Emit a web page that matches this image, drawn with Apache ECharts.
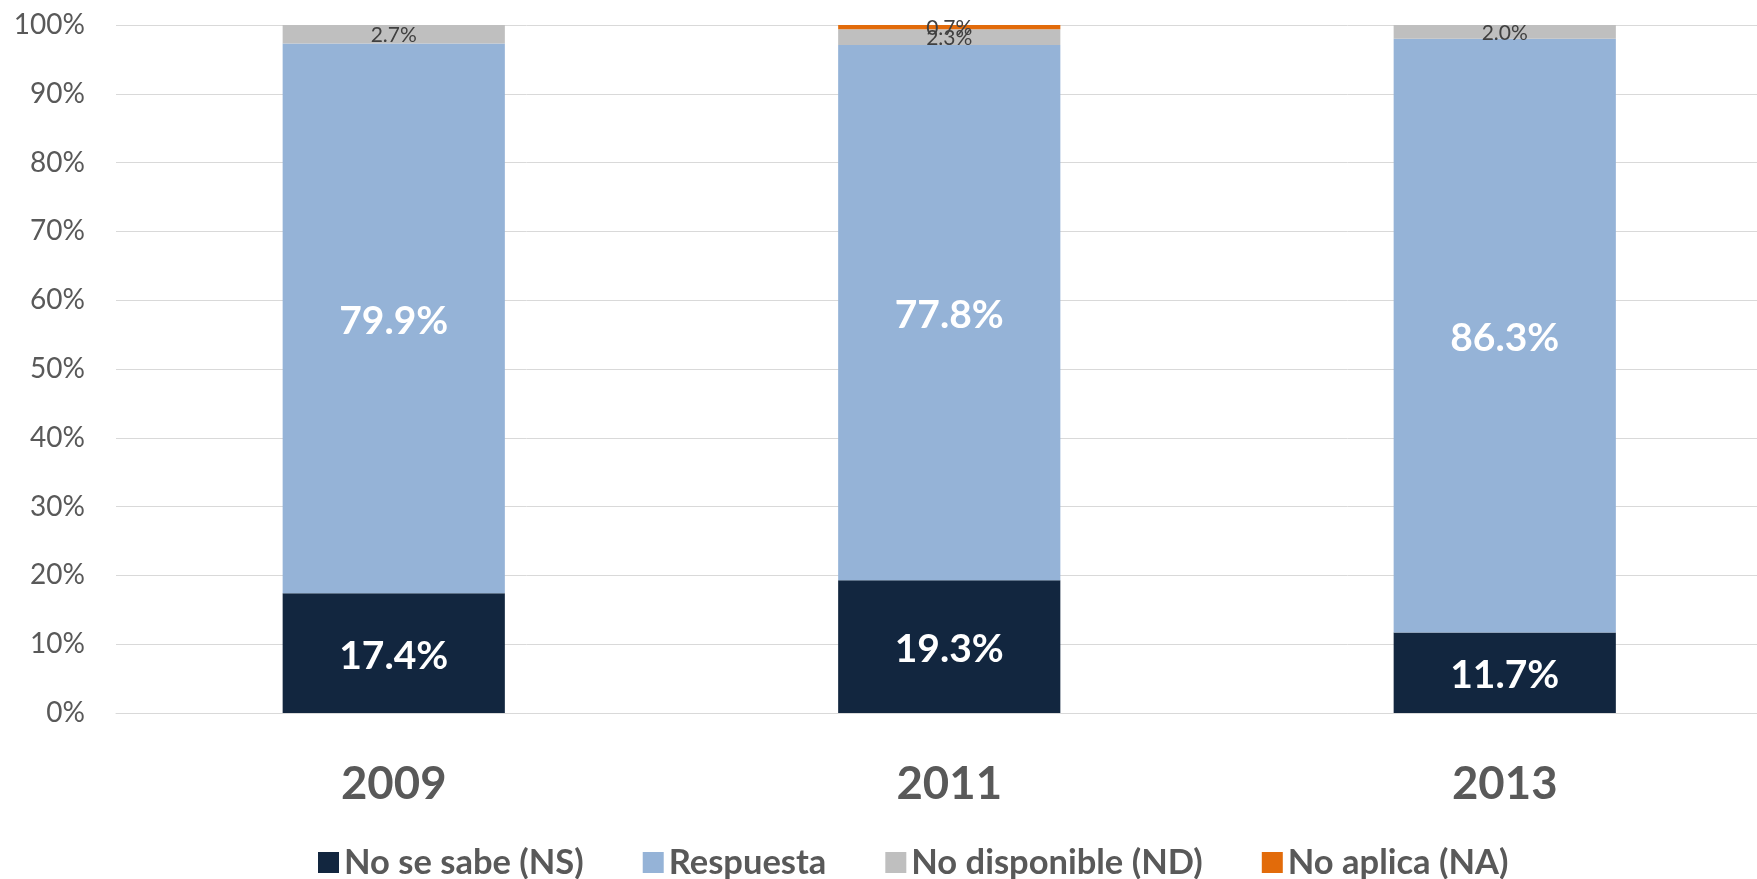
<!DOCTYPE html>
<html>
<head>
<meta charset="utf-8">
<script src="https://cdn.jsdelivr.net/npm/echarts@6/dist/echarts.min.js"></script>
<style>
html,body{margin:0;padding:0;background:#fff;}
#chart{width:1757px;height:879px;}
</style>
</head>
<body>
<div id="chart"></div>
<script>
const categories = ['2009', '2011', '2013'];
const seriesNames = ['No se sabe (NS)', 'Respuesta', 'No disponible (ND)', 'No aplica (NA)'];
const nsValues = [17.4, 19.3, 11.7];
const respuestaValues = [79.9, 77.8, 86.3];
const ndValues = [2.7, 2.3, 2.0];
const naValues = [null, 0.7, null];
const yTicks = [0, 10, 20, 30, 40, 50, 60, 70, 80, 90, 100];

const FONT = 'Lato';
const colors = ['#12263F', '#95B3D7', '#BFBFBF', '#E26B0A'];
const fmt = p => (p.value == null ? '' : p.value.toFixed(1) + '%');

const bigLabel = {
  show: true, position: 'inside', offset: [0, 3], color: '#FFFFFF', fontFamily: FONT,
  fontWeight: 'bold', fontSize: 39, formatter: fmt
};
const smallLabel = {
  show: true, position: 'inside', offset: [0, 1], color: '#404040', fontFamily: FONT,
  fontSize: 21, formatter: fmt
};

const chart = echarts.init(document.getElementById('chart'), null, {renderer: 'canvas'});
chart.setOption({
  animation: false,
  backgroundColor: '#FFFFFF',
  color: colors,
  grid: {left: 116, width: 1666.5, top: 25, bottom: 166, containLabel: false, outerBoundsMode: 'none'},
  legend: {
    left: 313, top: 840,
    icon: 'rect', itemWidth: 21, itemHeight: 21, itemGap: 59,
    textStyle: {fontFamily: FONT, fontWeight: 'bold', fontSize: 34.5, color: '#595959'},
    data: seriesNames
  },
  xAxis: {
    type: 'category', data: categories,
    axisLine: {show: true, lineStyle: {color: '#D9D9D9', width: 1}},
    axisTick: {show: false},
    axisLabel: {margin: 48, fontFamily: FONT, fontWeight: 'bold', fontSize: 45.5, color: '#595959'}
  },
  yAxis: {
    type: 'value', min: yTicks[0], max: yTicks[yTicks.length - 1], interval: yTicks[1] - yTicks[0],
    axisLine: {show: false}, axisTick: {show: false},
    splitLine: {lineStyle: {color: '#D9D9D9', width: 1}},
    axisLabel: {margin: 31, fontFamily: FONT, fontSize: 28, color: '#595959', formatter: '{value}%'}
  },
  series: [
    {name: seriesNames[0], type: 'bar', stack: 'total', data: nsValues, barWidth: '40%', label: bigLabel},
    {name: seriesNames[1], type: 'bar', stack: 'total', data: respuestaValues, barWidth: '40%', label: bigLabel},
    {name: seriesNames[2], type: 'bar', stack: 'total', data: ndValues, barWidth: '40%', label: smallLabel},
    {name: seriesNames[3], type: 'bar', stack: 'total', data: naValues, barWidth: '40%', label: smallLabel}
  ]
});
</script>
</body>
</html>
